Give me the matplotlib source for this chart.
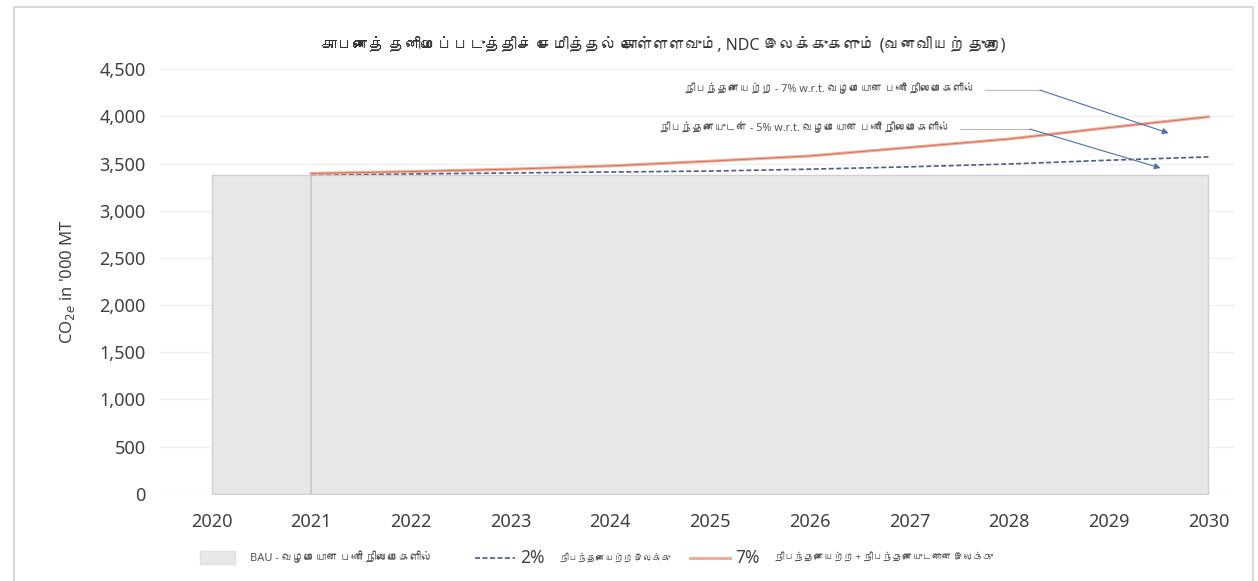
import matplotlib
matplotlib.use('Agg')
import matplotlib.pyplot as plt
from matplotlib import font_manager, ft2font
from matplotlib.patches import Rectangle
from matplotlib.lines import Line2D

# values
years = [2020, 2021, 2022, 2023, 2024, 2025, 2026, 2027, 2028, 2029, 2030]
bau = [3380, 3380, 3380, 3380, 3380, 3380, 3380, 3380, 3380, 3380, 3380]
target_years = [2021, 2022, 2023, 2024, 2025, 2026, 2027, 2028, 2029, 2030]
target_2 = [3385, 3390, 3400, 3410, 3420, 3440, 3465, 3495, 3535, 3570]
target_7 = [3395, 3415, 3440, 3475, 3525, 3580, 3670, 3760, 3880, 3995]
y_ticks = [0, 500, 1000, 1500, 2000, 2500, 3000, 3500, 4000, 4500]

title = 'காபனைத் தனிமைப்படுத்திச் சேமித்தல் கொள்ளளவும், NDC இலக்குகளும் (வனவியற் துறை)'
note_7 = 'நிபந்தனையற்ற - 7% w.r.t. வழமையான பணி நிலைமைகளில்'
note_5 = 'நிபந்தனையுடன் - 5% w.r.t. வழமையான பணி நிலைமைகளில்'
leg_bau = 'BAU - வழமையான பணி நிலைமைகளில்'
leg_2 = 'நிபந்தனையற்ற இலக்கு'
leg_7 = 'நிபந்தனையற்ற + நிபந்தனையுடனான இலக்கு'

# look for any installed family that has Tamil letters
tamil_fams = []
for f in font_manager.fontManager.ttflist:
    try:
        if 0x0B95 in ft2font.FT2Font(f.fname).get_charmap() and f.name not in tamil_fams:
            tamil_fams.append(f.name)
    except Exception:
        pass

plt.rcParams['font.family'] = ['Noto Sans'] + tamil_fams + ['DejaVu Sans']

fig = plt.figure(figsize=(12.58, 5.81), dpi=100)
ax = fig.add_axes([0.127, 0.150, 0.855, 0.731])

# outer frame like the source image
fig.patches.append(Rectangle((0.011, -0.01), 0.985, 0.998, transform=fig.transFigure,
                             fill=False, edgecolor='#d9d9d9', linewidth=1.5))

ax.fill_between(years, bau, 0, color='#e8e8e8', edgecolor='#d0d0d0', linewidth=1)
ax.vlines(2021, 0, bau[1], color='#c8c8c8', linewidth=1.2)
ax.plot(target_years, target_2, color='#4f5b85', linestyle=(0, (3, 1.5)), linewidth=1.2)
ax.plot(target_years, target_7, color='#f2ad98', linewidth=2.2)
ax.plot(target_years, target_7, color='#cf6e58', linewidth=0.6)

ax.set_xlim(2019.48, 2030.27)
ax.set_ylim(0, 4500)
ax.set_yticks(y_ticks)
ax.set_yticklabels([f'{v:,}' for v in y_ticks])
ax.set_xticks(years)
ax.tick_params(length=0, labelsize=13, colors='#404040')
ax.tick_params(axis='x', pad=14)
ax.tick_params(axis='y', pad=10)
ax.grid(axis='y', color='#f0f0f0', linewidth=1)
ax.set_axisbelow(True)
for s in ax.spines.values():
    s.set_visible(False)
ax.set_ylabel("CO$_{2e}$ in '000 MT", fontsize=12, color='#404040', labelpad=16)

fig.text(0.527, 0.922, title, ha='center', va='center', fontsize=11.5, color='#333333')

# annotation notes with a grey leader and blue arrow
ax.text(2027.66, 4278, note_7, fontsize=7.8, color='#555555', ha='right', va='center')
ax.plot([2027.76, 2028.31], [4278, 4278], color='#bbbbbb', linewidth=0.8)
ax.annotate('', xy=(2029.60, 3822), xytext=(2028.31, 4278),
            arrowprops=dict(arrowstyle='-|>', color='#4a6fb5', lw=0.8, mutation_scale=9,
                            shrinkA=0, shrinkB=0))
ax.text(2027.41, 3865, note_5, fontsize=7.8, color='#555555', ha='right', va='center')
ax.plot([2027.51, 2028.21], [3865, 3865], color='#bbbbbb', linewidth=0.8)
ax.annotate('', xy=(2029.52, 3452), xytext=(2028.21, 3865),
            arrowprops=dict(arrowstyle='-|>', color='#4a6fb5', lw=0.8, mutation_scale=9,
                            shrinkA=0, shrinkB=0))

# legend drawn by hand: the percent figures are larger than the Tamil text
ly = 0.040
fig.patches.append(Rectangle((200 / 1258, ly - 0.011), 35 / 1258, 0.022, transform=fig.transFigure,
                             facecolor='#e8e8e8', edgecolor='#e0e0e0'))
fig.text(250 / 1258, ly, leg_bau, fontsize=8, color='#555555', va='center')
fig.add_artist(Line2D([475 / 1258, 515 / 1258], [ly, ly], transform=fig.transFigure,
                      color='#4f5b85', linestyle=(0, (3, 1.5)), linewidth=1.2))
fig.text(520 / 1258, ly, '2%', fontsize=12.5, color='#404040', va='center')
fig.text(560 / 1258, ly, leg_2, fontsize=6.5, color='#555555', va='center')
fig.add_artist(Line2D([690 / 1258, 730 / 1258], [ly, ly], transform=fig.transFigure,
                      color='#f2ad98', linewidth=2.2))
fig.text(735 / 1258, ly, '7%', fontsize=12.5, color='#404040', va='center')
fig.text(775 / 1258, ly, leg_7, fontsize=7, color='#555555', va='center')

fig.savefig('out.png', dpi=100)
